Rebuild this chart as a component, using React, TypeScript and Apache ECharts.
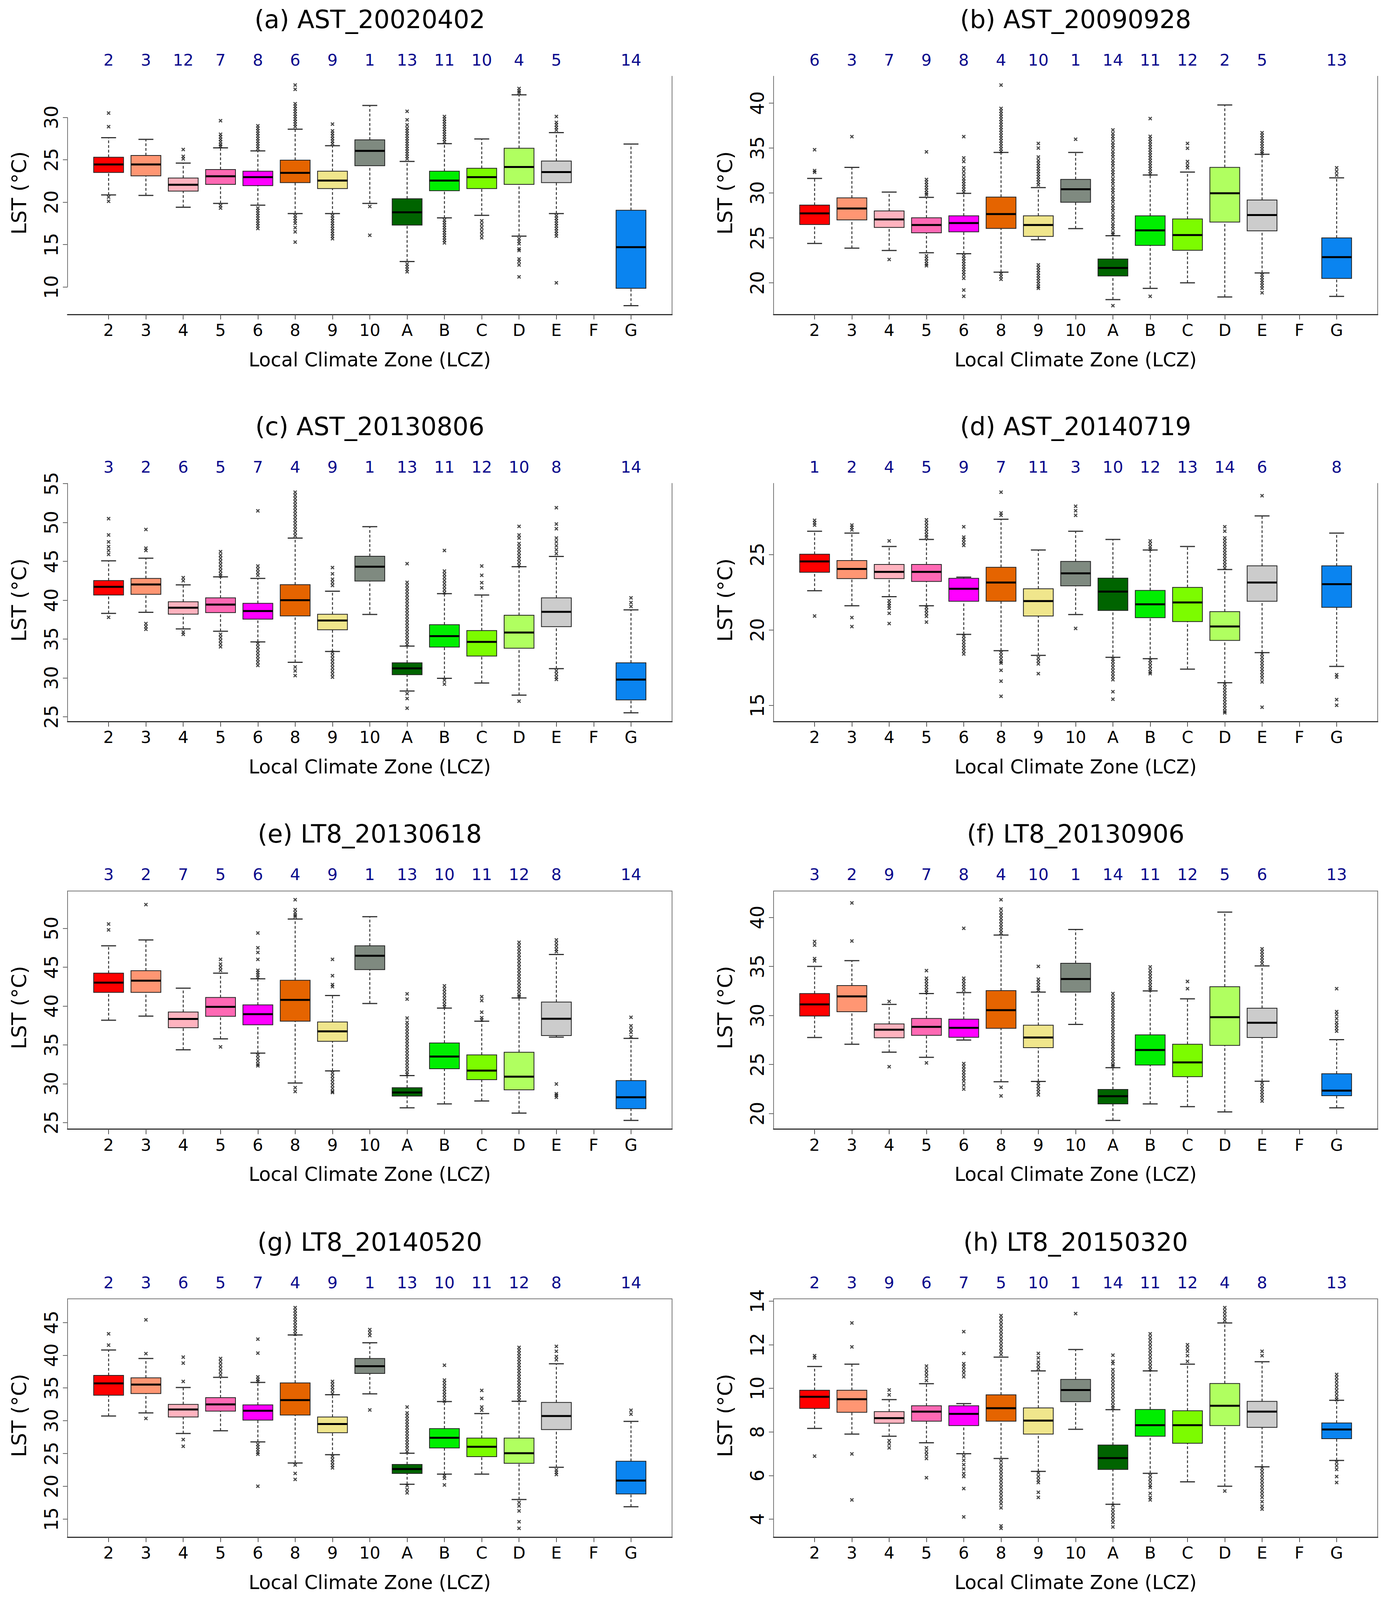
import React, { useEffect, useRef, useState } from 'react';
import * as echarts from 'echarts';

const categories = ['2', '3', '4', '5', '6', '8', '9', '10', 'A', 'B', 'C', 'D', 'E', 'F', 'G'];
const boxColors = ['#FF0000', '#FF9673', '#FFB3BF', '#FF69B4', '#FF00FF', '#E56400', '#F0E68C', '#7F8A80', '#006400', '#00EE00', '#7CFC00', '#B0FF60', '#CCCCCC', '#FFFFFF', '#0A84F0'];

const titles = ['(a) AST_20020402', '(b) AST_20090928', '(c) AST_20130806', '(d) AST_20140719', '(e) LT8_20130618', '(f) LT8_20130906', '(g) LT8_20140520', '(h) LT8_20150320'];

// rank numbers shown above each box (null = no data)
const ranksA = [2, 3, 12, 7, 8, 6, 9, 1, 13, 11, 10, 4, 5, null, 14];
const ranksB = [6, 3, 7, 9, 8, 4, 10, 1, 14, 11, 12, 2, 5, null, 13];
const ranksC = [3, 2, 6, 5, 7, 4, 9, 1, 13, 11, 12, 10, 8, null, 14];
const ranksD = [1, 2, 4, 5, 9, 7, 11, 3, 10, 12, 13, 14, 6, null, 8];
const ranksE = [3, 2, 7, 5, 6, 4, 9, 1, 13, 10, 11, 12, 8, null, 14];
const ranksF = [3, 2, 9, 7, 8, 4, 10, 1, 14, 11, 12, 5, 6, null, 13];
const ranksG = [2, 3, 6, 5, 7, 4, 9, 1, 13, 10, 11, 12, 8, null, 14];
const ranksH = [2, 3, 9, 6, 7, 5, 10, 1, 14, 11, 12, 4, 8, null, 13];

const yTicksA = [10, 15, 20, 25, 30];
const yTicksB = [20, 25, 30, 35, 40];
const yTicksC = [25, 30, 35, 40, 45, 50, 55];
const yTicksD = [15, 20, 25];
const yTicksE = [25, 30, 35, 40, 45, 50];
const yTicksF = [20, 25, 30, 35, 40];
const yTicksG = [15, 20, 25, 30, 35, 40, 45];
const yTicksH = [4, 6, 8, 10, 12, 14];

// [lower whisker, Q1, median, Q3, upper whisker]
const statsA = [
  [20.85, 23.5, 24.45, 25.3, 27.6], [20.8, 23.1, 24.45, 25.5, 27.4], [19.4, 21.3, 22.05, 22.85, 24.6],
  [19.85, 22.1, 23.05, 23.85, 26.4], [19.65, 21.95, 22.95, 23.65, 26.05], [18.65, 22.3, 23.45, 24.95, 28.6],
  [18.65, 21.6, 22.55, 23.65, 26.65], [19.85, 24.3, 26.05, 27.35, 31.4], [13.0, 17.3, 18.8, 20.4, 24.8],
  [18.15, 21.35, 22.55, 23.65, 26.9], [18.45, 21.6, 22.95, 24.0, 27.45], [16.0, 22.1, 24.15, 26.35, 32.65],
  [18.65, 22.3, 23.55, 24.85, 28.2], null, [7.8, 9.85, 14.7, 19.05, 26.85],
];
const statsB = [
  [24.38, 26.49, 27.73, 28.65, 31.62], [23.86, 27.0, 28.27, 29.46, 32.84], [23.6, 26.16, 27.05, 28.0, 30.1],
  [23.35, 25.57, 26.43, 27.24, 29.51], [23.24, 25.68, 26.65, 27.46, 29.95], [21.19, 26.05, 27.65, 29.54, 34.51],
  [24.8, 25.16, 26.43, 27.46, 30.6], [26.03, 28.97, 30.41, 31.51, 34.51], [18.14, 20.76, 21.65, 22.65, 25.24],
  [19.38, 24.16, 25.84, 27.46, 32.0], [20.0, 23.62, 25.32, 27.11, 32.32], [18.43, 26.76, 29.97, 32.84, 39.78],
  [21.1, 25.78, 27.54, 29.22, 34.3], null, [18.49, 20.49, 22.86, 25.0, 31.68],
];
const statsC = [
  [38.3, 40.66, 41.72, 42.53, 45.06], [38.44, 40.75, 42.03, 42.8, 45.4], [36.3, 38.2, 39.03, 39.8, 41.97],
  [36.0, 38.4, 39.44, 40.3, 43.0], [34.63, 37.56, 38.6, 39.6, 42.8], [32.0, 37.97, 40.0, 42.0, 48.0],
  [33.4, 36.19, 37.38, 38.19, 41.16], [38.16, 42.47, 44.31, 45.66, 49.47], [28.31, 30.41, 31.22, 31.94, 34.09],
  [29.94, 33.97, 35.38, 36.84, 40.84], [29.34, 32.81, 34.63, 36.09, 40.66], [27.78, 33.81, 35.84, 38.06, 44.31],
  [31.19, 36.59, 38.5, 40.3, 45.63], null, [25.5, 27.16, 29.78, 31.94, 38.75],
];
const statsD = [
  [22.6, 23.82, 24.54, 25.02, 26.54], [21.6, 23.4, 24.04, 24.6, 26.42], [22.2, 23.4, 23.85, 24.34, 25.53],
  [21.6, 23.21, 23.85, 24.34, 26.0], [19.7, 21.9, 22.73, 23.42, 23.5], [18.62, 21.9, 23.14, 24.15, 27.34],
  [18.31, 20.92, 21.91, 22.73, 25.3], [21.02, 22.92, 23.75, 24.54, 26.54], [18.18, 21.29, 22.54, 23.43, 26.0],
  [18.09, 20.81, 21.7, 22.62, 25.3], [17.4, 20.55, 21.82, 22.82, 25.53], [16.5, 19.3, 20.23, 21.21, 24.0],
  [18.49, 21.9, 23.14, 24.25, 27.56], null, [17.58, 21.5, 23.03, 24.25, 26.42],
];
const statsE = [
  [38.17, 41.76, 43.01, 44.23, 47.75], [38.7, 41.76, 43.26, 44.54, 48.5], [34.36, 37.2, 38.33, 39.23, 42.3],
  [35.77, 38.67, 39.89, 41.1, 44.23], [33.93, 37.58, 38.95, 40.14, 43.5], [30.09, 38.05, 40.79, 43.32, 51.19],
  [31.65, 35.46, 36.74, 37.95, 41.35], [40.32, 44.69, 46.47, 47.75, 51.5], [26.9, 28.4, 28.87, 29.49, 31.05],
  [27.4, 31.93, 33.49, 35.24, 39.73], [27.78, 30.52, 31.68, 33.71, 38.05], [26.22, 29.21, 30.9, 34.05, 41.04],
  [36.0, 36.2, 38.36, 40.51, 46.63], null, [25.28, 26.78, 28.25, 30.4, 35.83],
];
const statsF = [
  [27.76, 29.95, 31.13, 32.24, 35.0], [27.07, 30.39, 31.95, 33.05, 35.59], [26.26, 27.73, 28.55, 29.14, 31.13],
  [25.74, 27.98, 28.84, 29.7, 32.24], [27.5, 27.78, 28.74, 29.63, 32.34], [23.25, 28.69, 30.54, 32.54, 38.2],
  [23.28, 26.72, 27.76, 29.01, 32.39], [29.09, 32.39, 33.72, 35.32, 38.77], [19.31, 20.99, 21.77, 22.46, 24.68],
  [20.99, 24.95, 26.48, 28.03, 32.51], [20.71, 23.77, 25.22, 27.07, 31.7], [20.17, 26.95, 29.83, 32.93, 40.54],
  [23.3, 27.76, 29.26, 30.74, 35.05], null, [20.59, 21.82, 22.34, 24.06, 27.54],
];
const statsG = [
  [30.72, 33.89, 35.7, 36.92, 40.79], [31.2, 34.15, 35.52, 36.55, 39.5], [28.06, 30.57, 31.72, 32.49, 35.07],
  [28.47, 31.46, 32.49, 33.52, 36.62], [26.77, 30.09, 31.53, 32.42, 35.85], [23.56, 30.87, 33.15, 35.77, 43.08],
  [24.82, 28.17, 29.5, 30.57, 33.97], [34.11, 37.21, 38.32, 39.5, 41.9], [20.31, 21.97, 22.64, 23.34, 25.04],
  [21.86, 25.85, 27.4, 28.8, 32.93], [21.86, 24.52, 26.03, 27.36, 31.09], [17.99, 23.52, 25.04, 27.36, 32.97],
  [22.9, 28.65, 30.72, 32.79, 38.69], null, [16.88, 18.84, 20.87, 23.82, 29.91],
];
const statsH = [
  [8.16, 9.08, 9.61, 9.91, 11.0], [7.9, 8.9, 9.5, 9.91, 11.11], [7.8, 8.4, 8.63, 8.93, 9.48],
  [7.5, 8.49, 8.93, 9.2, 10.21], [7.0, 8.29, 8.83, 9.2, 9.3], [6.78, 8.49, 9.09, 9.7, 11.43],
  [6.19, 7.9, 8.52, 9.1, 10.8], [8.12, 9.39, 9.92, 10.41, 11.78], [4.68, 6.28, 6.8, 7.4, 9.02],
  [6.1, 7.8, 8.31, 9.03, 10.8], [5.71, 7.48, 8.31, 8.97, 11.11], [5.51, 8.29, 9.2, 10.22, 13.0],
  [6.4, 8.21, 8.93, 9.4, 11.22], null, [6.69, 7.69, 8.11, 8.41, 9.45],
];

// outliers per category
const outA = [
  [30.5, 28.9, 20.6, 20.1], [], [26.2, 25.4, 25.1],
  [29.6, 28.0, 27.7, 27.4, 27.1, 26.8, 26.6, 19.6, 19.3],
  [29.0, 28.7, 28.4, 28.1, 27.8, 27.5, 27.2, 26.9, 26.6, 26.3, 19.3, 19.0, 18.7, 18.4, 18.1, 17.8, 17.5, 17.2, 16.9],
  [33.8, 33.3, 31.6, 31.3, 31.0, 30.7, 30.4, 30.1, 29.8, 29.5, 29.2, 28.9, 18.4, 18.1, 17.8, 17.5, 17.0, 16.5, 15.3],
  [29.2, 28.4, 28.1, 27.8, 27.5, 27.2, 26.9, 18.4, 18.1, 17.8, 17.5, 17.2, 16.9, 16.6, 16.3, 16.0, 15.7],
  [19.5, 16.1],
  [30.7, 29.7, 29.1, 28.7, 28.4, 28.1, 27.8, 27.5, 27.2, 26.9, 26.6, 26.3, 26.0, 25.7, 25.4, 25.1, 12.7, 12.4, 12.1, 11.8],
  [30.1, 29.8, 29.5, 29.2, 28.9, 28.6, 28.3, 28.0, 27.7, 27.4, 27.1, 17.9, 17.6, 17.3, 17.0, 16.7, 16.4, 16.1, 15.8, 15.5, 15.2],
  [17.8, 17.4, 17.0, 16.6, 16.2, 15.8],
  [33.4, 33.1, 32.9, 15.7, 15.4, 15.1, 14.5, 14.3, 13.3, 13.0, 12.6, 11.2],
  [30.1, 29.4, 29.1, 28.8, 28.5, 18.4, 18.1, 17.8, 17.5, 17.2, 16.9, 16.6, 16.3, 16.0, 10.5],
  [], [],
];
const outB = [
  [34.81, 32.49, 32.3], [36.27], [22.6],
  [34.57, 31.5, 31.2, 30.9, 30.6, 30.3, 30.0, 29.8, 23.0, 22.7, 22.4, 22.1, 21.9],
  [36.27, 33.9, 33.5, 32.8, 32.4, 32.0, 31.6, 31.3, 31.0, 30.7, 30.4, 30.1, 23.0, 22.7, 22.4, 22.1, 21.8, 21.5, 21.2, 20.9, 20.5, 19.2, 18.5],
  [42.0, 39.4, 39.1, 38.8, 38.5, 38.2, 37.9, 37.6, 37.3, 37.0, 36.7, 36.4, 36.1, 35.8, 35.5, 35.2, 34.9, 34.6, 21.0, 20.7, 20.4],
  [35.5, 35.0, 34.0, 33.6, 33.3, 33.0, 32.7, 32.4, 32.1, 31.8, 31.5, 31.2, 30.9, 22.0, 21.7, 21.4, 21.1, 20.8, 20.5, 20.2, 19.9, 19.6, 19.4],
  [35.97],
  [37.0, 36.6, 36.3, 36.0, 35.6, 35.3, 35.0, 34.6, 34.3, 34.0, 33.6, 33.3, 33.0, 32.6, 32.3, 32.0, 31.6, 31.3, 31.0, 30.6, 30.3, 30.0, 29.6, 29.3, 29.0, 28.6, 28.3, 28.0, 27.6, 27.3, 27.0, 26.6, 26.3, 26.0, 25.6, 25.4, 17.46],
  [38.27, 36.3, 36.0, 35.7, 35.4, 35.1, 34.8, 34.5, 34.2, 33.9, 33.6, 33.3, 33.0, 32.7, 32.4, 32.1, 18.5],
  [35.5, 34.97, 33.5, 33.1, 32.8],
  [],
  [36.7, 36.4, 36.1, 35.8, 35.5, 35.2, 34.9, 34.6, 34.4, 20.9, 20.6, 20.3, 20.0, 19.7, 19.4, 18.9],
  [], [32.8, 32.4, 32.0],
];
const outC = [
  [50.5, 48.4, 47.5, 46.9, 46.4, 45.9, 37.8], [49.1, 46.7, 46.4, 37.0, 36.6, 36.25], [42.9, 42.5, 35.9, 35.6],
  [46.25, 45.8, 45.4, 45.0, 44.6, 44.2, 43.8, 43.4, 43.1, 35.6, 35.2, 34.8, 34.4, 34.0],
  [51.5, 44.4, 44.0, 43.6, 43.2, 34.4, 34.0, 33.6, 33.2, 32.8, 32.4, 32.0, 31.6],
  [53.9, 53.5, 53.1, 52.7, 52.3, 51.9, 51.5, 51.1, 50.7, 50.3, 49.9, 49.5, 49.1, 48.7, 48.3, 31.4, 30.9, 30.3],
  [44.2, 43.4, 42.7, 42.3, 41.9, 33.3, 32.9, 32.5, 32.1, 31.7, 31.3, 30.9, 30.5, 30.1],
  [],
  [44.7, 42.3, 41.9, 41.5, 41.1, 40.7, 40.3, 39.9, 39.5, 39.1, 38.7, 38.3, 37.9, 37.5, 37.1, 36.7, 36.3, 35.9, 35.5, 35.1, 34.7, 34.3, 27.97, 27.34, 26.1],
  [46.4, 43.75, 43.35, 42.95, 42.55, 42.15, 41.75, 41.35, 40.95, 29.7, 29.2],
  [44.4, 43.2, 42.25, 41.6],
  [49.5, 48.4, 48.0, 47.3, 46.9, 46.5, 46.1, 45.7, 45.3, 44.9, 44.5, 27.0],
  [51.9, 49.8, 49.2, 48.0, 47.5, 47.0, 46.5, 46.0, 30.9, 30.5, 30.1, 29.8],
  [], [40.3, 39.7, 39.2],
];
const outD = [
  [27.27, 27.1, 26.95, 20.92], [26.95, 26.8, 26.63, 20.82, 20.22], [25.9, 21.94, 21.75, 21.6, 21.43, 21.1, 20.42],
  [27.3, 27.1, 26.9, 26.7, 26.5, 26.3, 26.15, 21.5, 21.3, 21.1, 20.9, 20.52],
  [26.84, 26.15, 26.0, 25.8, 25.6, 19.6, 19.4, 19.2, 19.0, 18.8, 18.6, 18.4],
  [29.13, 27.75, 27.6, 18.5, 18.3, 18.1, 17.9, 17.8, 17.32, 16.6, 15.6],
  [18.15, 17.95, 17.75, 17.1],
  [28.2, 27.9, 27.6, 20.1],
  [18.07, 17.9, 17.7, 17.5, 17.3, 17.1, 16.9, 16.7, 15.9, 15.4],
  [25.9, 25.7, 25.5, 25.35, 17.99, 17.8, 17.6, 17.4, 17.2, 17.1],
  [],
  [26.84, 26.55, 26.1, 25.9, 25.7, 25.5, 25.3, 25.1, 24.9, 24.7, 24.5, 24.3, 24.1, 16.4, 16.2, 16.0, 15.8, 15.6, 15.4, 15.2, 15.0, 14.8, 14.6, 14.5],
  [28.9, 18.4, 18.2, 18.0, 17.8, 17.6, 17.4, 17.2, 17.0, 16.8, 16.55, 14.87],
  [], [17.03, 16.87, 15.38, 15.0],
];
const outE = [
  [50.56, 49.8], [53.06], [],
  [46.0, 45.4, 45.0, 44.6, 34.74],
  [49.4, 47.5, 46.9, 46.0, 44.6, 44.3, 44.0, 43.7, 33.7, 33.3, 32.9, 32.5, 32.3],
  [53.68, 52.4, 52.0, 51.7, 51.5, 29.5, 29.0],
  [46.0, 43.9, 42.76, 42.5, 31.4, 31.0, 30.6, 30.2, 29.8, 29.4, 29.0, 28.87],
  [],
  [41.57, 40.89, 38.45, 37.9, 37.5, 37.1, 36.7, 36.3, 35.9, 35.5, 35.1, 34.7, 34.3, 33.9, 33.5, 33.1, 32.7, 32.3, 31.9, 31.5, 31.2],
  [42.6, 42.2, 41.8, 41.4, 41.0, 40.6, 40.2, 39.9],
  [41.2, 40.7, 39.2, 38.5, 38.2],
  [48.2, 47.8, 47.4, 47.0, 46.6, 46.2, 45.8, 45.4, 45.0, 44.6, 44.2, 43.8, 43.4, 43.0, 42.6, 42.2, 41.8, 41.4, 41.2],
  [48.5, 48.1, 47.7, 47.3, 47.0, 29.96, 28.7, 28.5, 28.25],
  [], [38.55, 37.45, 37.0, 36.6, 36.05],
];
const outF = [
  [37.54, 37.17, 35.8, 35.57], [41.48, 37.59], [31.43, 24.78],
  [34.58, 33.8, 33.5, 33.2, 32.9, 32.6, 32.36, 25.17],
  [38.89, 33.8, 33.5, 33.2, 32.9, 32.6, 25.1, 24.8, 24.5, 24.2, 23.9, 23.6, 23.3, 22.9, 22.5],
  [41.8, 40.86, 40.5, 40.2, 39.9, 39.6, 39.3, 39.0, 38.7, 38.4, 22.68, 21.8],
  [35.0, 33.7, 33.4, 33.1, 32.8, 32.6, 23.1, 22.8, 22.5, 22.2, 21.9],
  [],
  [32.24, 31.9, 31.6, 31.3, 31.0, 30.7, 30.4, 30.1, 29.8, 29.5, 29.2, 28.9, 28.6, 28.3, 28.0, 27.7, 27.4, 27.1, 26.8, 26.5, 26.2, 25.9, 25.6, 25.3, 25.0, 24.85],
  [34.95, 34.6, 34.3, 34.0, 33.7, 33.4, 33.1, 32.8, 32.6],
  [33.47, 32.73],
  [],
  [36.8, 36.5, 36.2, 35.9, 35.6, 35.3, 23.13, 22.8, 22.5, 22.2, 21.9, 21.6, 21.28],
  [], [32.73, 30.4, 30.1, 29.7, 29.3, 29.0, 28.7, 28.4],
];
const outG = [
  [43.27, 41.53], [45.4, 40.24, 30.35], [39.7, 38.8, 36.0, 27.14, 26.1],
  [39.5, 39.0, 38.5, 38.0, 37.5, 37.0],
  [42.45, 40.31, 36.7, 36.3, 36.0, 26.4, 26.0, 25.6, 25.2, 24.9, 20.02],
  [47.25, 46.8, 46.35, 45.9, 45.45, 45.0, 44.55, 44.1, 43.65, 43.2, 23.26, 21.97, 21.05],
  [36.0, 35.55, 35.1, 34.65, 34.15, 24.55, 24.1, 23.65, 23.2, 22.82],
  [43.9, 43.45, 43.0, 31.64],
  [32.1, 31.2, 30.75, 30.3, 29.85, 29.4, 28.95, 28.5, 28.05, 27.6, 27.15, 26.7, 26.25, 25.8, 25.3, 20.1, 19.5, 19.0],
  [38.47, 36.2, 35.75, 35.3, 34.85, 34.4, 33.95, 33.5, 33.0, 21.6, 21.24, 20.2],
  [34.63, 33.41, 32.1, 31.6],
  [41.2, 40.75, 40.3, 39.85, 39.4, 38.95, 38.5, 38.05, 37.6, 37.15, 36.7, 36.25, 35.8, 35.35, 34.9, 34.45, 34.0, 33.55, 33.1, 17.55, 17.0, 16.25, 14.6, 13.6],
  [41.35, 40.6, 39.8, 39.3, 22.5, 22.15, 21.8],
  [], [31.6, 31.0],
];
const outH = [
  [11.5, 11.4, 6.89], [13.0, 11.9, 6.99, 4.88], [9.92, 9.7, 7.6, 7.45, 7.27],
  [11.02, 10.85, 10.7, 10.55, 10.36, 7.27, 7.1, 6.95, 6.78, 5.9],
  [12.6, 11.6, 11.13, 11.0, 10.85, 10.7, 10.53, 6.89, 6.7, 6.5, 6.3, 6.1, 5.95, 5.4, 4.1],
  [13.34, 13.2, 13.05, 12.9, 12.75, 12.6, 12.45, 12.3, 12.15, 12.0, 11.85, 11.7, 11.55, 6.67, 6.5, 6.35, 6.2, 6.05, 5.9, 5.75, 5.6, 5.45, 5.3, 5.15, 5.0, 4.85, 4.7, 4.52, 3.69, 3.58],
  [11.6, 11.4, 11.2, 11.05, 10.9, 6.12, 5.95, 5.8, 5.68, 5.23, 5.0],
  [13.43],
  [11.52, 11.24, 11.13, 10.86, 10.7, 10.55, 10.4, 10.25, 10.1, 9.95, 9.8, 9.65, 9.5, 9.35, 9.2, 9.1, 4.63, 4.45, 4.3, 4.15, 4.0, 3.85, 3.64],
  [12.5, 12.35, 12.2, 12.05, 11.9, 11.75, 11.6, 11.45, 11.3, 11.15, 11.0, 10.86, 6.0, 5.85, 5.7, 5.55, 5.45, 5.18, 5.0, 4.88],
  [12.0, 11.85, 11.7, 11.5, 11.24],
  [13.7, 13.55, 13.4, 13.25, 13.1, 5.29],
  [11.7, 11.5, 6.34, 6.2, 6.05, 5.9, 5.75, 5.6, 5.45, 5.3, 5.15, 5.0, 4.8, 4.6, 4.46],
  [], [10.64, 10.5, 10.35, 10.2, 10.05, 9.9, 9.75, 9.6, 9.48, 6.61, 6.45, 6.28, 5.95, 5.68],
];

const panels = [
  { title: titles[0], ranks: ranksA, yTicks: yTicksA, stats: statsA, out: outA },
  { title: titles[1], ranks: ranksB, yTicks: yTicksB, stats: statsB, out: outB },
  { title: titles[2], ranks: ranksC, yTicks: yTicksC, stats: statsC, out: outC },
  { title: titles[3], ranks: ranksD, yTicks: yTicksD, stats: statsD, out: outD },
  { title: titles[4], ranks: ranksE, yTicks: yTicksE, stats: statsE, out: outE },
  { title: titles[5], ranks: ranksF, yTicks: yTicksF, stats: statsF, out: outF },
  { title: titles[6], ranks: ranksG, yTicks: yTicksG, stats: statsG, out: outG },
  { title: titles[7], ranks: ranksH, yTicks: yTicksH, stats: statsH, out: outH },
];

const FONT = 'DejaVu Sans';
const REF_W = 3557;
const REF_H = 4197;
const COL_LEFT = [173, 1981];
const COL_WIDTH = [1548, 1547];
const ROW_TOP = [200, 1268, 2337, 3407];
const PLOT_H = 625;
const CROSS = 'path://M0,2 L2,0 L5,3 L8,0 L10,2 L7,5 L10,8 L8,10 L5,7 L2,10 L0,8 L3,5 Z';

function buildOption(W: number, H: number) {
  const sx = W / REF_W;
  const sy = H / REF_H;
  const fs = (sx + sy) / 2;
  const grid: any[] = [];
  const xAxis: any[] = [];
  const yAxis: any[] = [];
  const series: any[] = [];
  const graphic: any[] = [];
  const catIdx = categories.map((_, k) => k + 1);

  panels.forEach((p, i) => {
    const col = i % 2;
    const row = Math.floor(i / 2);
    const left = COL_LEFT[col] * sx;
    const width = COL_WIDTH[col] * sx;
    const top = ROW_TOP[row] * sy;
    const height = PLOT_H * sy;
    grid.push({ left, top, width, height, containLabel: false });

    const vals: number[] = [];
    p.stats.forEach((s) => { if (s) { vals.push(s[0], s[4]); } });
    p.out.forEach((o) => vals.push(...o));
    const lo = Math.min(...vals);
    const hi = Math.max(...vals);
    const pad = (hi - lo) * 0.04;
    const yMin = lo - pad;
    const yMax = hi + pad;

    const rankIdx = catIdx.filter((k) => p.ranks[k - 1] !== null);

    xAxis.push({
      gridIndex: i, type: 'value', position: 'bottom', min: -0.1, max: 16.1,
      axisLine: { show: true, onZero: false, lineStyle: { color: '#333', width: 3 } },
      axisTick: { show: true, customValues: catIdx, length: 13 * sy, lineStyle: { color: '#555', width: 2 } },
      axisLabel: { customValues: catIdx, formatter: (v: number) => categories[Math.round(v) - 1], fontSize: 43 * fs, fontFamily: FONT, color: '#000', margin: 20 * sy },
      splitLine: { show: false },
    });
    xAxis.push({
      gridIndex: i, type: 'value', position: 'top', min: -0.1, max: 16.1,
      axisLine: { show: row >= 2, onZero: false, lineStyle: { color: '#777', width: 2 } },
      axisTick: { show: false },
      axisLabel: { customValues: rankIdx, formatter: (v: number) => String(p.ranks[Math.round(v) - 1]), fontSize: 42 * fs, fontFamily: FONT, color: '#0A0A8C', margin: 22 * sy },
      splitLine: { show: false },
    });
    yAxis.push({
      gridIndex: i, type: 'value', position: 'left', min: yMin, max: yMax,
      axisLine: { show: i !== 0, onZero: false, lineStyle: { color: '#777', width: 2 } },
      axisTick: { show: true, customValues: p.yTicks, length: 12 * sx, lineStyle: { color: '#666', width: 2 } },
      axisLabel: { customValues: p.yTicks, rotate: 90, fontSize: 48 * fs, fontFamily: FONT, color: '#000', margin: 18 * sx },
      splitLine: { show: false },
    });
    yAxis.push({
      gridIndex: i, type: 'value', position: 'right', min: yMin, max: yMax,
      axisLine: { show: true, onZero: false, lineStyle: { color: '#777', width: 2 } },
      axisTick: { show: false }, axisLabel: { show: false }, splitLine: { show: false },
    });

    if (i === 0) {
      series.push({
        type: 'line', xAxisIndex: 0, yAxisIndex: 0, clip: false, silent: true, symbol: 'none',
        data: [[-0.1, p.yTicks[0]], [-0.1, p.yTicks[p.yTicks.length - 1]]],
        lineStyle: { color: '#777', width: 2 },
      });
    }

    const boxData: any[] = [];
    p.stats.forEach((s, k) => { if (s) boxData.push([k + 1, ...s]); });
    series.push({
      type: 'custom', xAxisIndex: 2 * i, yAxisIndex: 2 * i, clip: false,
      encode: { x: 0, y: [1, 2, 3, 4, 5] },
      data: boxData,
      renderItem: (params: any, api: any) => {
        const x = api.value(0);
        const pLow = api.coord([x, api.value(1)]);
        const pQ1 = api.coord([x, api.value(2)]);
        const pMed = api.coord([x, api.value(3)]);
        const pQ3 = api.coord([x, api.value(4)]);
        const pHigh = api.coord([x, api.value(5)]);
        const cx = pLow[0];
        const halfBox = api.size([0.8, 0])[0] / 2;
        const halfCap = api.size([0.4, 0])[0] / 2;
        const color = boxColors[Math.round(x) - 1];
        const dash = { stroke: '#333', lineWidth: 2.5, lineDash: [7, 5] };
        const cap = { stroke: '#333', lineWidth: 3 };
        return {
          type: 'group',
          children: [
            { type: 'line', shape: { x1: cx, y1: pLow[1], x2: cx, y2: pQ1[1] }, style: dash },
            { type: 'line', shape: { x1: cx, y1: pQ3[1], x2: cx, y2: pHigh[1] }, style: dash },
            { type: 'line', shape: { x1: cx - halfCap, y1: pLow[1], x2: cx + halfCap, y2: pLow[1] }, style: cap },
            { type: 'line', shape: { x1: cx - halfCap, y1: pHigh[1], x2: cx + halfCap, y2: pHigh[1] }, style: cap },
            { type: 'rect', shape: { x: cx - halfBox, y: pQ3[1], width: halfBox * 2, height: pQ1[1] - pQ3[1] }, style: { fill: color, stroke: '#222', lineWidth: 2 } },
            { type: 'line', shape: { x1: cx - halfBox, y1: pMed[1], x2: cx + halfBox, y2: pMed[1] }, style: { stroke: '#000', lineWidth: 5 } },
          ],
        };
      },
    });

    const outData: number[][] = [];
    p.out.forEach((o, k) => o.forEach((v) => outData.push([k + 1, v])));
    series.push({
      type: 'scatter', xAxisIndex: 2 * i, yAxisIndex: 2 * i,
      symbol: CROSS, symbolSize: 10, data: outData, silent: true,
      itemStyle: { color: '#1a1a1a' },
    });

    graphic.push({
      type: 'text', x: left + width / 2, y: top - 149 * sy, silent: true,
      style: { text: p.title, font: `${Math.round(65 * fs)}px "${FONT}"`, fill: '#000', align: 'center', verticalAlign: 'middle' },
    });
    graphic.push({
      type: 'text', x: left + width / 2, y: top + 744 * sy, silent: true,
      style: { text: 'Local Climate Zone (LCZ)', font: `${Math.round(50 * fs)}px "${FONT}"`, fill: '#000', align: 'center', verticalAlign: 'middle' },
    });
    graphic.push({
      type: 'text', x: left - 124 * sx, y: top + 306 * sy, rotation: Math.PI / 2, silent: true,
      style: { text: 'LST (°C)', font: `${Math.round(53 * fs)}px "${FONT}"`, fill: '#000', align: 'center', verticalAlign: 'middle' },
    });
  });

  return {
    animation: false,
    backgroundColor: '#ffffff',
    grid, xAxis, yAxis, series, graphic,
  };
}

export default function App() {
  const ref = useRef<HTMLDivElement>(null);
  const [size] = useState(() => ({
    w: typeof window !== 'undefined' ? window.innerWidth || REF_W : REF_W,
    h: typeof window !== 'undefined' ? window.innerHeight || REF_H : REF_H,
  }));
  useEffect(() => {
    document.body.style.margin = '0';
    document.body.style.overflow = 'hidden';
    if (!ref.current) return;
    const chart = echarts.init(ref.current, undefined, { renderer: 'svg' });
    chart.setOption(buildOption(size.w, size.h) as any);
    return () => chart.dispose();
  }, [size]);
  return <div ref={ref} style={{ width: size.w, height: size.h, background: '#fff' }} />;
}
